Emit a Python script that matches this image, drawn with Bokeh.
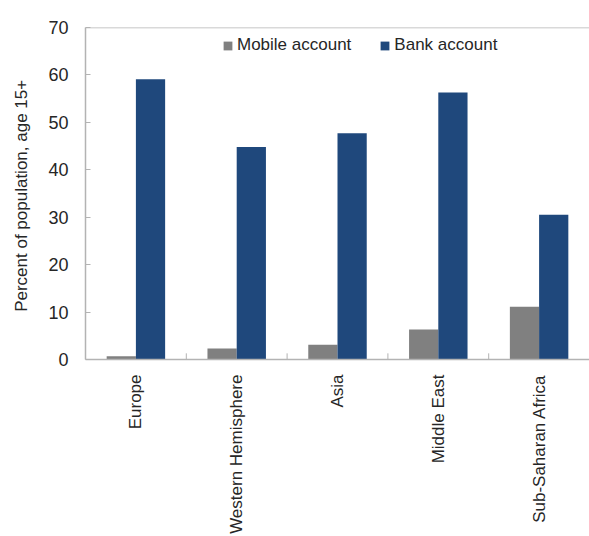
import math
from bokeh.plotting import figure
from bokeh.models import FactorRange, Span, ColumnDataSource, Range1d, FixedTicker
from bokeh.transform import dodge
from bokeh.embed import file_html
from bokeh.resources import INLINE

categories = ["Europe", "Western Hemisphere", "Asia", "Middle East", "Sub-Saharan Africa"]
mobile_account = [0.7, 2.3, 3.1, 6.3, 11.1]
bank_account = [59.1, 44.8, 47.7, 56.3, 30.5]
y_ticks = [0, 10, 20, 30, 40, 50, 60, 70]

src = ColumnDataSource(dict(cat=categories, mobile=mobile_account, bank=bank_account))
sep = ColumnDataSource(dict(cat=categories[1:], y0=[0] * 4, y1=[1.3] * 4))

TXT = "#262626"
AX = "#b3b3b3"
FONT = "Liberation Sans"

p = figure(x_range=FactorRange(factors=categories, range_padding=0),
           y_range=Range1d(0, 70), width=589, height=536,
           output_backend="svg", toolbar_location=None,
           min_border_left=85, min_border_top=27, min_border_bottom=175, min_border_right=0)
p.outline_line_color = None
p.grid.grid_line_color = None

p.vbar(x=dodge("cat", -0.145, range=p.x_range), top="mobile", width=0.29, source=src,
       color="#808080", line_color=None, legend_label="Mobile account")
p.vbar(x=dodge("cat", 0.145, range=p.x_range), top="bank", width=0.29, source=src,
       color="#1F487C", line_color=None, legend_label="Bank account")

p.segment(x0=dodge("cat", -0.5, range=p.x_range), x1=dodge("cat", -0.5, range=p.x_range),
          y0="y0", y1="y1", source=sep, line_color=AX, line_width=1)

p.add_layout(Span(location=70, dimension="width", line_color=AX, line_width=1.5))

yax = p.yaxis[0]
yax.ticker = FixedTicker(ticks=y_ticks)
yax.axis_line_color = AX
yax.axis_line_width = 1.5
yax.major_tick_line_color = AX
yax.major_tick_in = 5
yax.major_tick_out = 0
yax.minor_tick_line_color = None
yax.major_label_text_font = FONT
yax.major_label_text_font_size = "18px"
yax.major_label_text_color = TXT
yax.major_label_standoff = 17
yax.axis_label = "Percent of population,  age 15+"
yax.axis_label_text_font = FONT
yax.axis_label_text_font_size = "17px"
yax.axis_label_text_font_style = "normal"
yax.axis_label_text_color = TXT
yax.axis_label_standoff = 14

xax = p.xaxis[0]
xax.axis_line_color = AX
xax.axis_line_width = 1.5
xax.major_tick_line_color = None
xax.major_tick_in = 0
xax.major_tick_out = 0
xax.major_label_orientation = math.pi / 2
xax.major_label_text_font = FONT
xax.major_label_text_font_size = "17px"
xax.major_label_text_color = TXT
xax.major_label_standoff = 15

lg = p.legend[0]
lg.orientation = "horizontal"
lg.location = (137, 304)
lg.padding = 0
lg.margin = 0
lg.spacing = 28
lg.glyph_width = 11
lg.glyph_height = 11
lg.label_standoff = 4
lg.label_text_font = FONT
lg.label_text_font_size = "17px"
lg.label_text_color = TXT
lg.border_line_color = None
lg.background_fill_alpha = 0

open("out.html", "w").write(file_html(p, INLINE))
